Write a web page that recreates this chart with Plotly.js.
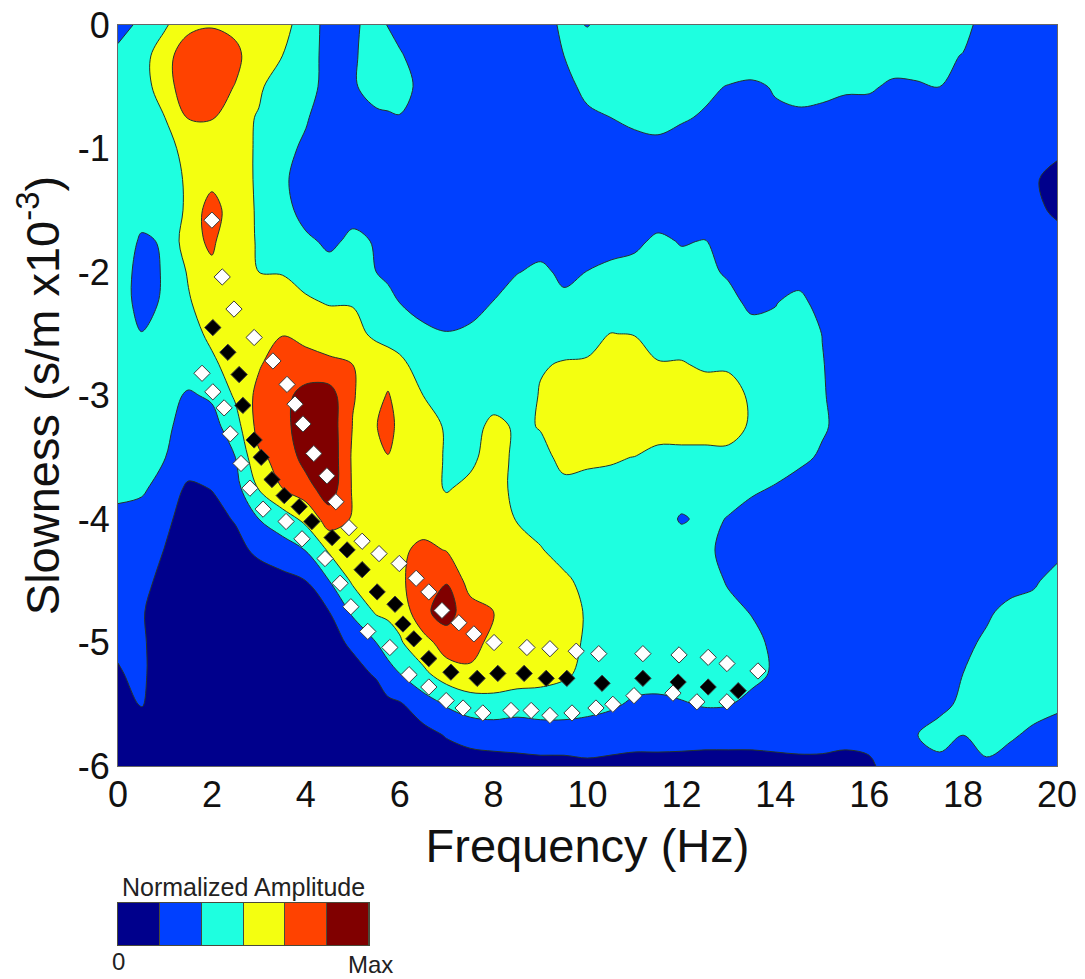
<!DOCTYPE html>
<html><head><meta charset="utf-8">
<script src="https://cdn.plot.ly/plotly-3.0.1.min.js"></script>
<style>html,body{margin:0;padding:0;background:#fff}</style></head>
<body><div id="chart" style="width:1085px;height:979px"></div>
<script>
const frequency=[0,.5,1,1.5,2,2.5,3,3.5,4,4.5,5,5.5,5.75,6,6.5,7,7.5,8,8.5,9,9.5,10,10.5,11,11.5,12,12.5,13,13.5,14,14.5,15,15.5,16,16.5,17,17.5,18,18.5,19,19.5,20];
const slowness=[0,-.25,-.5,-.75,-1,-1.25,-1.5,-1.75,-2,-2.25,-2.5,-2.75,-3,-3.25,-3.5,-3.75,-4,-4.25,-4.5,-4.75,-5,-5.25,-5.5,-5.75,-6];
const amplitude=[
[1.4,2.34,2.9,3.6,3.9,3.7,3.4,3.3,2.57,1.62,1.82,2.4,1.95,1.53,1.5,1.5,1.4,1.3,1.3,1.3,2.3,1.95,2.5,2.6,2.6,2.6,2.6,2.6,2.6,2.6,2.6,2.6,2.6,2.6,2.6,2.6,2.6,2.3,1.6,1.5,1.5,1.5],
[2.4,2.7,3.45,4.9,4.9,4.3,3.2,3.0,2.5,1.61,1.83,2.6,2.4,2.15,1.32,1.4,1.3,1.3,1.3,1.4,2.0,2.7,2.7,2.7,2.7,2.7,2.7,2.7,2.7,2.7,2.7,2.7,2.7,2.7,2.7,2.7,2.2,1.96,1.4,1.4,1.4,1.4],
[2.4,2.7,3.37,4.9,4.5,3.95,3.15,2.47,2.4,1.63,1.83,2.6,2.55,2.5,1.62,1.4,1.3,1.3,1.3,1.4,1.7,2.25,2.5,2.6,2.6,2.5,2.2,1.95,1.8,2.09,2.3,2.4,2.2,2.2,1.75,1.83,2.0,1.5,1.4,1.4,1.4,1.4],
[2.4,2.6,3.0,4.05,4.05,3.3,2.93,2.6,2.1,1.4,1.5,1.72,1.85,1.94,1.5,1.4,1.3,1.3,1.3,1.3,1.5,1.82,2.0,2.3,2.5,2.1,1.9,1.6,1.5,1.83,1.84,1.63,1.43,1.33,1.3,1.3,1.4,1.4,1.4,1.4,1.4,1.4],
[2.4,2.5,2.75,3.25,3.6,3.3,2.9,2.3,1.82,1.4,1.3,1.3,1.3,1.3,1.3,1.3,1.3,1.3,1.3,1.3,1.3,1.3,1.4,1.53,1.6,1.6,1.5,1.4,1.3,1.3,1.3,1.3,1.3,1.3,1.3,1.3,1.3,1.3,1.3,1.3,1.25,1.2],
[2.4,2.5,2.7,3.1,3.6,3.3,2.9,2.2,1.49,1.3,1.3,1.3,1.3,1.2,1.2,1.2,1.2,1.2,1.2,1.2,1.2,1.2,1.2,1.2,1.2,1.2,1.2,1.2,1.2,1.2,1.2,1.2,1.2,1.2,1.2,1.2,1.2,1.2,1.2,1.2,1.1,.7],
[2.3,2.4,2.6,3.12,4.6,3.2,2.95,2.4,1.6,1.3,1.7,1.6,1.4,1.2,1.2,1.2,1.2,1.2,1.2,1.2,1.2,1.2,1.2,1.2,1.2,1.2,1.2,1.2,1.2,1.2,1.2,1.2,1.2,1.2,1.2,1.2,1.2,1.2,1.2,1.2,1.2,.85],
[2.7,1.85,2.1,3.6,4.2,3.1,2.98,2.7,2.2,1.8,2.2,1.93,1.6,1.4,1.3,1.3,1.3,1.3,1.4,1.6,1.4,1.6,1.5,1.68,2.29,1.9,2.05,1.5,1.3,1.3,1.3,1.3,1.3,1.3,1.3,1.3,1.3,1.3,1.3,1.3,1.3,1.3],
[2.6,1.6,2.1,3.1,3.76,3.4,3.0,2.95,2.7,2.37,2.5,2.0,1.8,1.6,1.3,1.3,1.3,1.3,1.96,2.2,1.8,2.02,2.32,2.5,2.6,2.5,2.3,1.83,1.5,1.4,1.4,1.3,1.3,1.3,1.3,1.3,1.3,1.3,1.3,1.3,1.3,1.3],
[2.6,1.6,2.17,2.9,3.57,3.7,3.7,3.45,3.12,2.95,2.95,2.7,2.3,2.0,1.5,1.4,1.6,2.05,2.5,2.7,2.2,2.5,2.5,2.6,2.7,2.7,2.5,2.42,1.7,1.95,2.4,1.47,1.3,1.3,1.3,1.3,1.3,1.3,1.3,1.3,1.3,1.3],
[2.4,2.03,2.3,2.7,3.18,3.4,3.6,3.95,3.7,3.5,3.3,2.8,2.7,2.6,2.3,2.05,2.2,2.4,2.6,2.7,2.7,2.7,3.02,2.95,2.7,2.7,2.8,2.7,2.5,2.33,2.6,1.98,1.4,1.3,1.3,1.3,1.3,1.3,1.3,1.3,1.3,1.3],
[2.4,2.3,2.4,2.5,2.85,3.35,3.9,4.6,4.4,4.2,4.0,3.6,3.4,3.2,2.63,2.4,2.5,2.5,2.6,2.95,3.05,3.1,3.4,3.7,3.05,3.05,2.91,2.9,2.8,2.7,2.6,2.05,1.5,1.3,1.3,1.3,1.3,1.3,1.3,1.3,1.3,1.3],
[2.5,2.4,2.3,1.89,2.13,3.14,4.29,4.7,5.35,5.45,4.05,3.6,4.1,3.5,3.0,2.7,2.5,2.5,2.6,3.05,3.4,3.7,3.8,3.9,3.8,3.6,3.3,3.3,2.88,2.8,2.7,2.1,1.5,1.3,1.3,1.3,1.3,1.3,1.3,1.3,1.3,1.3],
[2.5,2.4,2.2,1.6,1.64,2.57,4.36,4.8,5.34,5.6,3.97,3.95,4.5,3.6,3.2,2.95,2.55,3.3,2.85,3.04,3.5,3.8,3.9,3.9,3.3,3.3,3.3,3.3,2.9,2.8,2.7,2.15,1.6,1.3,1.3,1.3,1.3,1.3,1.3,1.3,1.3,1.3],
[2.5,2.3,2.02,1.5,1.5,2.0,3.85,4.28,5.4,5.73,3.85,3.65,3.95,3.55,3.2,2.96,2.7,3.58,2.7,2.8,3.18,3.25,3.1,2.98,2.8,2.8,2.8,2.8,2.7,2.6,2.3,1.83,1.4,1.3,1.3,1.3,1.3,1.3,1.3,1.3,1.3,1.3],
[2.4,2.2,1.49,.85,1.03,1.67,3.06,4.0,4.6,5.6,3.9,3.6,3.55,3.5,3.5,2.9,3.3,3.2,2.87,2.7,2.85,2.6,2.7,2.7,2.6,2.5,2.4,2.3,2.2,1.91,1.5,1.3,1.3,1.3,1.3,1.3,1.3,1.3,1.3,1.3,1.3,1.3],
[1.6,1.5,1.2,.61,.7,1.07,2.0,2.5,3.25,4.5,3.92,3.6,3.55,3.5,3.5,3.6,3.6,3.2,2.97,2.7,2.7,2.6,2.6,2.6,2.5,1.9,2.2,1.96,1.5,1.3,1.3,1.3,1.3,1.3,1.3,1.3,1.3,1.3,1.3,1.3,1.3,1.3],
[1.5,1.25,.98,.5,.5,.7,1.22,1.6,2.03,3.14,3.6,3.7,3.75,3.8,4.25,3.95,3.6,3.4,3.3,3.05,2.7,2.7,2.7,2.7,2.6,2.5,2.3,1.6,1.4,1.3,1.3,1.3,1.3,1.3,1.3,1.3,1.3,1.3,1.3,1.4,1.5,1.6],
[1.5,1.2,.8,.4,.4,.4,.5,.7,1.0,2.0,3.15,3.6,3.75,3.9,4.3,4.95,3.6,3.6,3.5,3.4,3.15,2.76,2.7,2.7,2.7,2.6,2.5,1.89,1.5,1.4,1.4,1.4,1.4,1.4,1.4,1.4,1.4,1.4,1.4,1.5,1.8,2.51],
[1.5,1.05,.7,.4,.4,.4,.5,.6,.7,1.0,2.19,3.12,3.2,3.3,4.8,5.4,4.4,4.0,3.5,3.4,3.2,2.95,2.8,2.8,2.8,2.7,2.6,2.3,1.94,1.5,1.4,1.4,1.4,1.4,1.4,1.4,1.4,1.4,1.8,2.36,2.5,2.6],
[1.1,1.08,.7,.4,.4,.4,.4,.5,.6,.8,1.1,2.0,2.5,2.9,3.6,4.5,4.4,3.7,3.5,3.4,3.2,2.92,2.7,2.7,2.7,2.6,2.6,2.5,2.3,1.77,1.4,1.4,1.4,1.4,1.4,1.4,1.4,1.7,2.21,2.5,2.6,2.6],
[.95,1.15,.5,.4,.4,.4,.4,.5,.5,.6,.8,1.07,1.6,2.0,2.8,3.5,3.8,3.7,3.5,3.4,3.15,2.76,2.6,2.6,2.6,2.6,2.6,2.5,2.4,1.82,1.4,1.4,1.4,1.4,1.4,1.4,1.5,2.0,2.5,2.6,2.6,2.6],
[.7,1.05,.5,.4,.4,.5,.5,.5,.5,.5,.5,.7,.8,.9,1.5,2.1,2.5,2.6,2.5,2.5,2.5,2.4,2.2,1.8,1.7,1.9,2.1,2.05,1.6,1.3,1.3,1.3,1.3,1.3,1.3,1.3,1.6,2.3,2.6,2.6,2.65,2.3],
[.5,.7,.4,.3,.3,.3,.3,.3,.3,.3,.3,.4,.45,.5,.7,1.06,1.3,1.4,1.3,1.5,1.5,1.4,1.2,1.3,1.4,1.5,1.1,1.3,1.3,1.3,1.3,1.3,1.3,1.3,1.3,1.95,2.6,2.0,2.5,2.23,1.65,1.3],
[.5,.4,.3,.3,.3,.3,.3,.3,.3,.3,.3,.3,.3,.3,.3,.5,.59,.63,.78,.73,.73,.86,.89,.75,.67,.54,.89,.67,.67,.75,.81,.8,.67,.84,1.4,1.5,1.5,1.15,1.79,1.23,1.3,1.3]
];
const bandColors=['#00008c','#0040ff','#1effe0','#f4ff10','#ff4200','#800000'];
const legendLevels=[.5,1.5,2.5,3.5,4.5,5.5];
const xTicks=[0,2,4,6,8,10,12,14,16,18,20];
const yTicks=[0,-1,-2,-3,-4,-5,-6];
const yTickLabels=['0','-1','-2','-3','-4','-5','-6'];
const blackX=[2.02,2.34,2.58,2.66,2.90,3.05,3.28,3.54,3.86,4.13,4.56,4.88,5.20,5.52,5.90,6.07,6.30,6.62,7.09,7.65,8.09,8.65,9.12,9.56,10.31,11.18,11.93,12.57,13.21];
const blackY=[-2.45,-2.65,-2.83,-3.08,-3.36,-3.50,-3.68,-3.81,-3.90,-4.02,-4.15,-4.25,-4.41,-4.59,-4.69,-4.85,-4.97,-5.13,-5.24,-5.29,-5.25,-5.25,-5.29,-5.29,-5.33,-5.29,-5.32,-5.36,-5.39];
const upperX=[2.00,2.22,2.47,2.90,3.30,3.60,3.77,3.94,4.17,4.45,4.64,4.92,5.20,5.56,5.99,6.35,6.62,6.90,7.26,7.58,8.01,8.71,9.20,9.76,10.24,11.18,11.95,12.57,12.97,13.63];
const upperY=[-1.58,-2.04,-2.30,-2.53,-2.72,-2.91,-3.07,-3.23,-3.47,-3.65,-3.86,-4.07,-4.18,-4.28,-4.36,-4.48,-4.59,-4.74,-4.84,-4.93,-5.00,-5.04,-5.05,-5.07,-5.09,-5.09,-5.10,-5.12,-5.17,-5.23];
const lowerX=[1.79,2.02,2.26,2.39,2.62,2.81,3.09,3.58,3.92,4.41,4.73,4.96,5.32,5.79,6.20,6.62,6.99,7.35,7.77,8.37,8.80,9.20,9.67,10.18,10.54,10.99,11.82,12.33,12.97];
const lowerY=[-2.82,-2.97,-3.10,-3.31,-3.55,-3.75,-3.92,-4.02,-4.16,-4.32,-4.52,-4.71,-4.91,-5.04,-5.26,-5.36,-5.47,-5.53,-5.57,-5.55,-5.55,-5.59,-5.57,-5.53,-5.50,-5.43,-5.41,-5.48,-5.48];

const scale=[];
bandColors.forEach((c,i)=>{scale.push([i/6,c]);scale.push([(i+1)/6,c]);});
const sans='"Liberation Sans",Arial,sans-serif';
const diamond=(x,y,fill)=>({type:'scatter',mode:'markers',x,y,hoverinfo:'skip',
  marker:{symbol:'diamond',size:12.5,color:fill,line:{color:'#3a3a3a',width:1}}});
const data=[
 {type:'contour',x:frequency,y:slowness,z:amplitude,zmin:0,zmax:6,colorscale:scale,showscale:false,
  autocontour:false,contours:{start:1,end:5,size:1,coloring:'fill'},
  line:{color:'#24342c',width:1,smoothing:1},hoverinfo:'skip'},
 diamond(blackX,blackY,'#000'),
 diamond(upperX,upperY,'#fff'),
 diamond(lowerX,lowerY,'#fff'),
 {type:'heatmap',xaxis:'x2',yaxis:'y2',z:[legendLevels],zmin:0,zmax:6,colorscale:scale,showscale:false,xgap:1,hoverinfo:'skip'}
];
const layout={
 width:1085,height:979,margin:{l:118,r:28,t:25,b:30},paper_bgcolor:'#fff',plot_bgcolor:'#4a4a3a',showlegend:false,
 font:{family:sans,color:'#111'},
 xaxis:{domain:[0,1],range:[0,20],tickvals:xTicks,ticks:'',showgrid:false,zeroline:false,
   showline:true,mirror:true,linecolor:'#666',linewidth:1,tickfont:{size:36,family:sans},anchor:'y',ticklabelstandoff:-3,
   title:{text:'Frequency (Hz)',font:{size:47,family:sans},standoff:14}},
 yaxis:{domain:[.198,1],range:[-6,0],tickvals:yTicks,ticktext:yTickLabels,ticks:'',showgrid:false,zeroline:false,
   showline:true,mirror:true,linecolor:'#666',linewidth:1,tickfont:{size:36,family:sans},anchor:'x',
   title:{text:'Slowness (s/m x10<sup>-3</sup>)',font:{size:47,family:sans},standoff:3}},
 xaxis2:{domain:[0,.2673],anchor:'y2',range:[-.5,5.5],showticklabels:false,ticks:'',showgrid:false,zeroline:false,showline:true,mirror:true,linecolor:'#4a4a3a'},
 yaxis2:{domain:[.0043,.0498],anchor:'x2',range:[-.5,.5],showticklabels:false,ticks:'',showgrid:false,zeroline:false,showline:true,mirror:true,linecolor:'#4a4a3a'},
 annotations:[
  {xref:'paper',yref:'paper',x:.1335,y:.0495,xanchor:'center',yanchor:'bottom',text:'Normalized Amplitude',showarrow:false,font:{size:25,family:sans,color:'#222'}},
  {xref:'paper',yref:'paper',x:0,y:.0035,yanchor:'top',xanchor:'center',text:'0',showarrow:false,font:{size:24,family:sans,color:'#222'}},
  {xref:'paper',yref:'paper',x:.2425,y:-.0005,yanchor:'top',xanchor:'left',text:'Max',showarrow:false,font:{size:24,family:sans,color:'#222'}}
 ]
};
Plotly.newPlot('chart',data,layout,{displayModeBar:false,staticPlot:true});
</script></body></html>
